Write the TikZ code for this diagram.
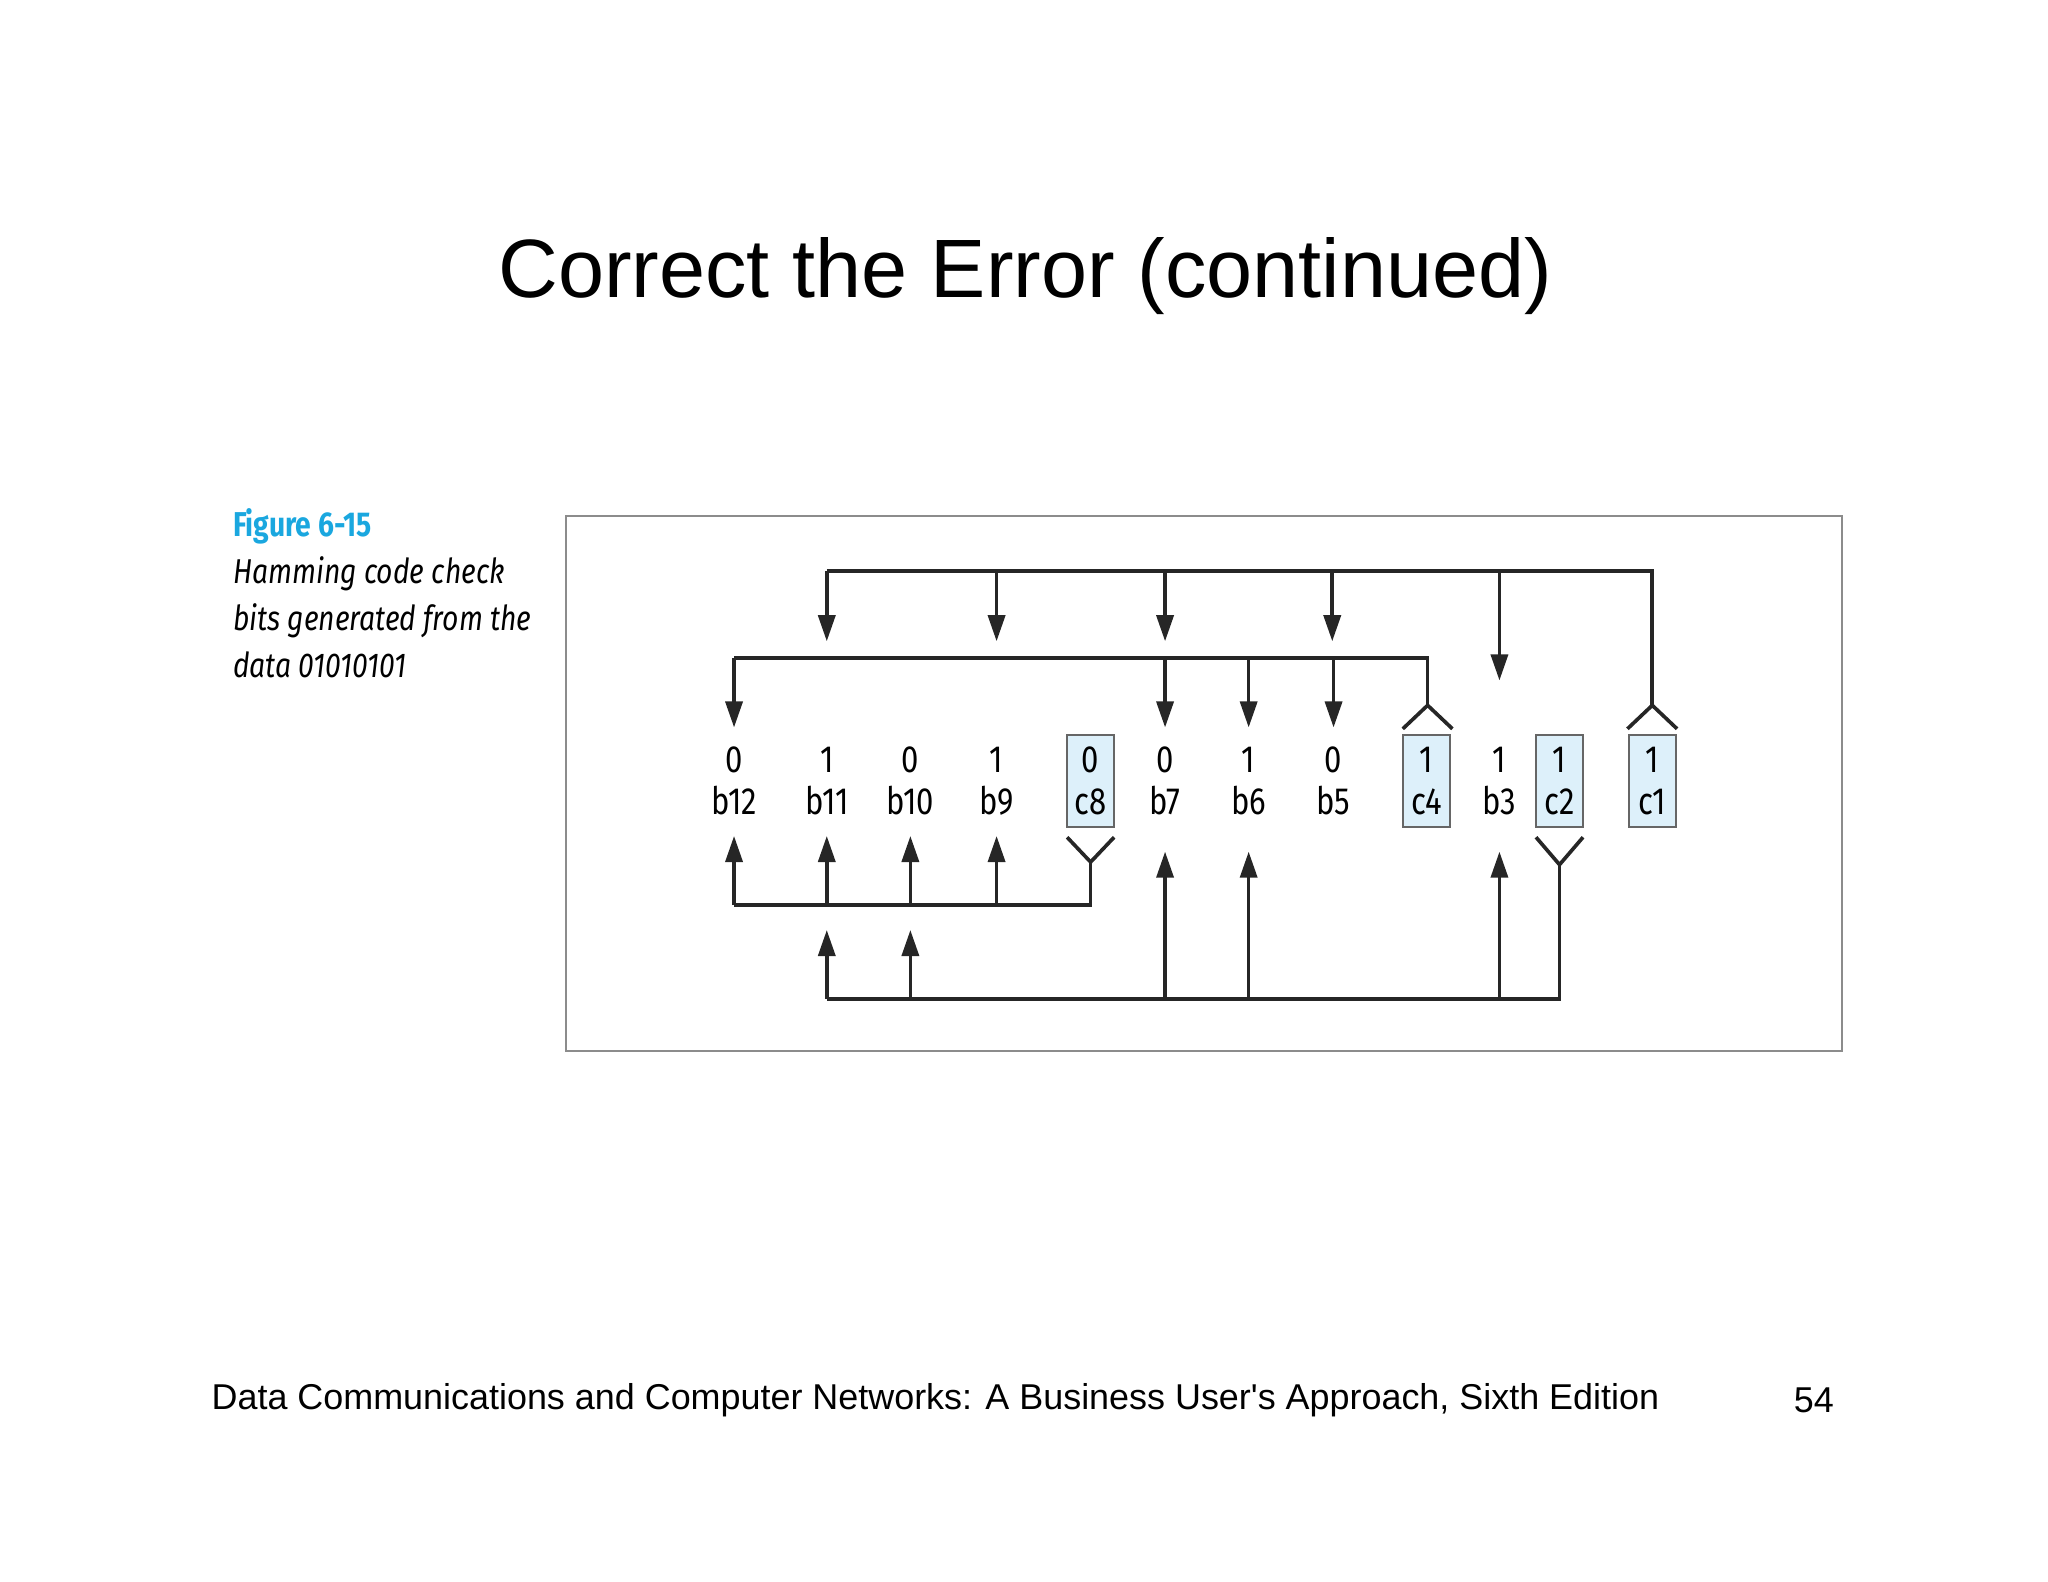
\documentclass[tikz,border=0pt]{standalone}
\usepackage{fontspec}
\setmainfont{Liberation Sans}[Ligatures=TeXOff]
\newfontfamily\fig[FakeStretch=0.82]{Fira Sans}
\usetikzlibrary{arrows.meta}
\definecolor{boxblue}{HTML}{DDF0FA}
\definecolor{figcyan}{HTML}{1AA7DF}
\begin{document}
\begin{tikzpicture}[x=0.5pt,y=-0.5pt,
  wire/.style={line width=1.4pt,draw=black!85},
  arr/.style={wire,-{Triangle[length=10pt,width=6.5pt]}},
  bit/.style={font=\fig\fontsize{14.5}{17}\selectfont,align=center,inner sep=0pt,minimum width=16pt,minimum height=33pt},
  cbit/.style={bit,draw=black!60,line width=0.8pt,fill=boxblue,minimum width=18pt,minimum height=35pt}]
\useasboundingbox (0,0) rectangle (1568,1211);
\node[font=\fontsize{31.7}{36}\selectfont] (title) at (785,211) {Correct the Error (continued)};
\node[anchor=west,font=\fontsize{13.75}{17}\selectfont] (foot) at (155,1072) {Data Communications and Computer Networks: A Business User's Approach, Sixth Edition};
\node[anchor=east,font=\fontsize{13.75}{17}\selectfont] (page) at (1411,1072) {54};
\node[anchor=north west,align=left,inner sep=0pt,font=\fig\itshape\fontsize{13.2}{18}\selectfont] (cap) at (178,389)
  {{\upshape\bfseries\color{figcyan}Figure 6-15}\\Hamming code check\\bits generated from the\\data 01010101};
\draw[black!45,line width=0.8pt] (433,395) rectangle (1410,805);
% bits
\foreach \n/\x/\v/\l in {b12/562/0/b12,b11/633/1/b11,b10/697/0/b10,b9/763/1/b9,b7/892/0/b7,b6/956/1/b6,b5/1021/0/b5,b3/1148/1/b3}
  \node[bit] (\n) at (\x,598) {\v\\[-1pt]\l};
\foreach \n/\x/\v/\l in {c8/835/0/c8,c4/1092/1/c4,c2/1194/1/c2,c1/1265/1/c1}
  \node[cbit] (\n) at (\x,598) {\v\\[-1pt]\l};
% top bus
\coordinate (t1) at (633,437); \coordinate (t2) at (1265,437);
\draw[wire] (t1) -- (t2) -- (1265,540) coordinate (ca1);
\draw[wire] (1246,558) -- (ca1) -- (1284,558);
\foreach \x in {633,763,892,1020} \draw[arr] (\x,437) -- (\x,491);
\draw[arr] (1148,437) -- (1148,521);
% second bus
\draw[wire] (562,504) -- (1093,504) -- (1093,540) coordinate (ca4);
\draw[wire] (1074,558) -- (ca4) -- (1112,558);
\foreach \x in {562,892,956,1021} \draw[arr] (\x,504) -- (\x,557);
% c8 bus
\draw[wire] (817,641) -- (835,660) coordinate (v8) -- (853,641);
\draw[wire] (v8) -- (835,693) -- (562,693);
\foreach \x in {562,633,697,763} \draw[arr] (\x,693) -- (\x,640);
% c2 bus
\draw[wire] (1176,641) -- (1194,662) coordinate (v2) -- (1212,641);
\draw[wire] (v2) -- (1194,765) -- (633,765);
\foreach \x in {633,697} \draw[arr] (\x,765) -- (\x,712);
\foreach \x in {892,956,1148} \draw[arr] (\x,765) -- (\x,652);
\end{tikzpicture}
\end{document}
